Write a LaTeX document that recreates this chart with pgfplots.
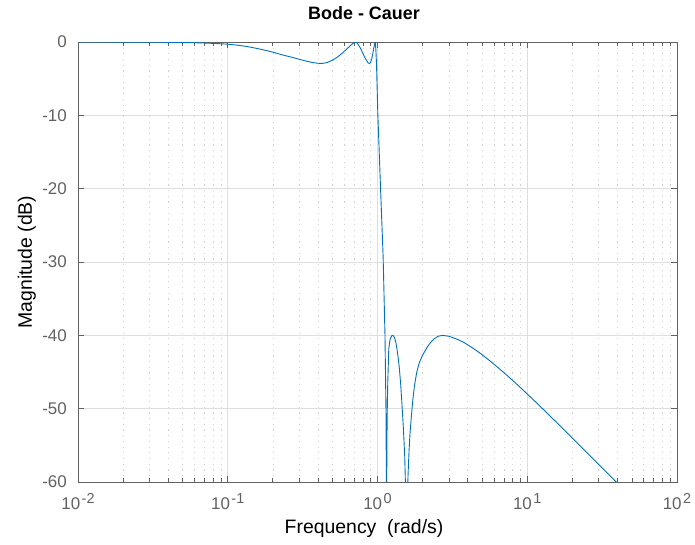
\documentclass[border=0pt]{standalone}
\usepackage{pgfplots}
\pgfplotsset{compat=1.18}
\usepackage{fontspec}
\setmainfont{Liberation Sans}
\definecolor{mblue}{rgb}{0,0.447,0.741}
\definecolor{axgray}{gray}{0.38}
\definecolor{gridgray}{gray}{0.87}
\definecolor{mgridgray}{gray}{0.82}
\newcommand{\sups}[1]{\kern1.5bp\raisebox{6.6bp}{\fontsize{14.5}{14.5}\selectfont #1}}
\begin{document}
\begin{tikzpicture}
\path[use as bounding box] (-78bp,-63bp) rectangle (617bp,482bp);
\begin{axis}[
  scale only axis, width=599bp, height=440bp,
  at={(0,0)}, anchor=south west,
  xmode=log, log basis x=10,
  xmin=0.01, xmax=100, ymin=-60, ymax=0,
  xtick={0.01,0.1,1,10,100},
  xticklabels={10\sups{-2},10\sups{-1},10\sups{0},10\sups{1},10\sups{2}},
  minor xtick={0.02,0.03,0.04,0.05,0.06,0.07,0.08,0.09,0.2,0.3,0.4,0.5,0.6,0.7,0.8,0.9,2,3,4,5,6,7,8,9,20,30,40,50,60,70,80,90},
  ytick={-60,-50,-40,-30,-20,-10,0},
  yticklabels={-60,-50,-40,-30,-20,-10,0},
  tick align=inside, major tick length=6bp, minor tick length=3.5bp,
  xmajorgrids, xminorgrids, ymajorgrids,
  major grid style={gridgray, line width=0.6bp},
  minor grid style={mgridgray, line width=0.6bp, dash pattern=on 1.2bp off 4.5bp},
  axis line style={axgray, line width=0.7bp},
  every tick/.style={axgray, line width=0.7bp},
  ticklabel style={font=\fontsize{17}{17}\selectfont, text=axgray},
  xticklabel style={anchor=base, yshift=-28bp, inner sep=0pt},
  yticklabel style={anchor=east, xshift=-11bp, inner sep=0pt},
  xlabel={Frequency\ \ (rad/s)},
  xlabel style={at={(axis description cs:0.4775,0)}, anchor=base, yshift=-52bp, font=\fontsize{19.5}{19.5}\selectfont, text=black},
  ylabel={Magnitude (dB)},
  ylabel style={at={(axis description cs:-0.077,0.5)}, anchor=base, font=\fontsize{19.5}{19.5}\selectfont, text=black},
  title={Bode - Cauer},
  title style={at={(axis description cs:0.4775,1)}, anchor=base, yshift=17bp, font=\bfseries\fontsize{18}{18}\selectfont, text=black},
]
\addplot[mblue, line width=0.9bp, no marks] table {
w dB
0.01 0
0.015 -0.005
0.02 -0.01
0.03 -0.025
0.04 -0.045
0.05 -0.07
0.06 -0.1
0.07 -0.14
0.08 -0.19
0.09 -0.24
0.1 -0.3
0.11 -0.38
0.12 -0.47
0.13 -0.57
0.14 -0.68
0.16 -0.92
0.18 -1.15
0.2 -1.38
0.233 -1.77
0.27 -2.1
0.302 -2.37
0.33 -2.58
0.36 -2.76
0.398 -2.9
0.43 -2.92
0.46 -2.8
0.504 -2.45
0.545 -2.0
0.587 -1.45
0.62 -1.0
0.651 -0.6
0.68 -0.25
0.70 -0.06
0.713 0
0.725 -0.06
0.74 -0.28
0.77 -0.85
0.798 -1.54
0.82 -2.05
0.845 -2.5
0.865 -2.85
0.885 -2.95
0.90 -2.75
0.915 -2.3
0.93 -1.6
0.945 -0.8
0.958 -0.2
0.966 0
0.975 -1.0
0.985 -3
1.0046 -9.7
1.047 -19.7
1.091 -29.4
1.122 -40
1.139 -50
1.145 -58
1.148 -90
1.152 -60
1.16 -51
1.171 -46.4
1.189 -41.9
1.205 -40.9
1.22 -40.4
1.253 -40
1.275 -40.05
1.298 -40.3
1.325 -40.9
1.35 -41.9
1.375 -43.1
1.40 -44.5
1.43 -46.8
1.461 -49.8
1.49 -52.8
1.52 -56.5
1.54 -61
1.563 -90
1.575 -66
1.585 -62
1.60 -59
1.625 -55.7
1.65 -53.3
1.678 -51.4
1.72 -48.9
1.765 -46.9
1.83 -45.0
1.905 -43.7
2.0 -42.7
2.164 -41.5
2.3 -40.8
2.4 -40.45
2.55 -40.12
2.72 -40.0
3.0 -40.13
3.4 -40.52
3.8 -41.01
4.3 -41.70
4.9 -42.51
5.6 -43.44
6.5 -44.54
7.5 -45.64
8.6 -46.74
10 -48.0
11.5 -49.18
13.5 -50.56
16 -52.04
19.56 -53.81
24 -55.62
30 -57.61
39 -59.95
50 -62.17
};
\end{axis}
\end{tikzpicture}
\end{document}
